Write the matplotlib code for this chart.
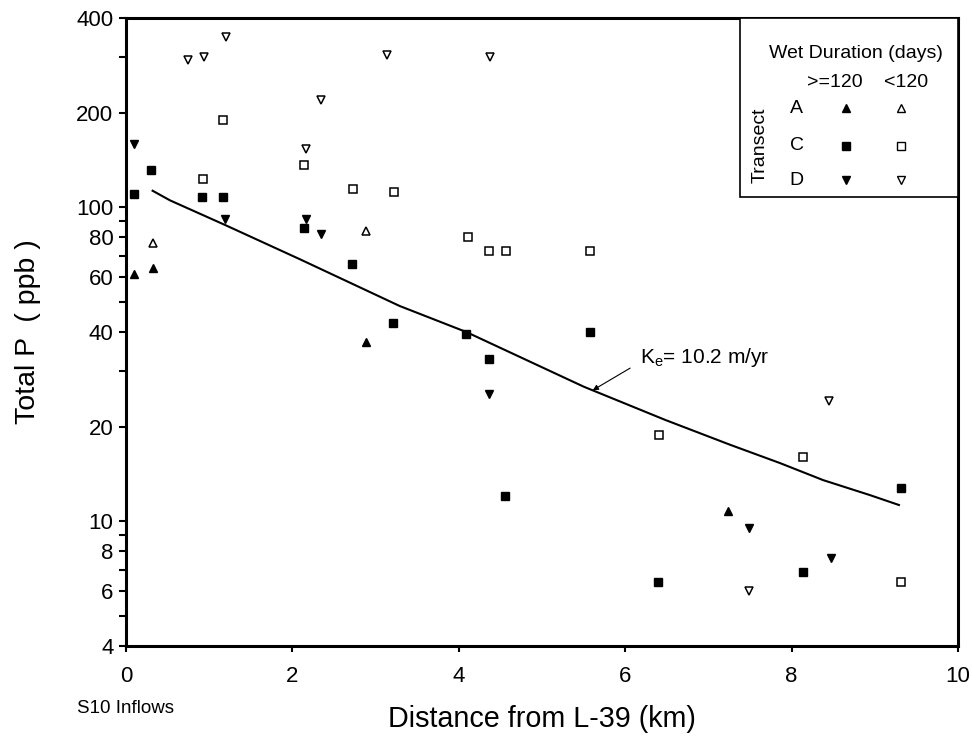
import matplotlib
matplotlib.use("Agg")
import matplotlib.pyplot as plt
from matplotlib.patches import Rectangle
from matplotlib.ticker import FixedLocator, FixedFormatter, LogLocator, NullFormatter
from matplotlib import transforms

plt.rcParams['font.family'] = ['Liberation Sans', 'DejaVu Sans']
plt.rcParams['mathtext.fontset'] = 'custom'
plt.rcParams['mathtext.rm'] = 'Liberation Sans'

# data: distance (km) and total P (ppb)
a_long_x = [0.10, 0.33, 2.88, 7.23]
a_long_y = [61, 64, 37.3, 10.8]
a_short_x = [0.32, 2.89]
a_short_y = [76.6, 84]

c_long_x = [0.10, 0.30, 0.91, 1.17, 2.14, 2.72, 3.21, 4.09, 4.36, 4.56, 5.58, 6.39, 8.14, 9.31]
c_long_y = [110, 131, 107.5, 107.7, 86, 66, 42.6, 39.3, 32.8, 12, 40, 6.4, 6.9, 12.7]
c_short_x = [0.92, 1.17, 2.14, 2.73, 3.22, 4.11, 4.36, 4.57, 5.58, 6.41, 8.14, 9.31]
c_short_y = [122.7, 190, 136, 114, 112, 80.5, 72.5, 72.5, 72.2, 18.8, 16, 6.4]

d_long_x = [0.10, 1.19, 2.16, 2.34, 4.36, 7.49, 8.47]
d_long_y = [159, 91.4, 91.4, 82, 25.3, 9.5, 7.6]
d_short_x = [0.74, 0.94, 1.20, 2.16, 2.35, 3.14, 4.37, 7.49, 8.45]
d_short_y = [295, 300, 349, 153, 219, 306, 301, 6.0, 24.1]

# fitted model curve (Ke = 10.2 m/yr)
fit_x = [0.32, 0.53, 1.19, 2.09, 3.29, 4.09, 5.50, 6.48, 7.26, 7.86, 8.38, 8.94, 9.29]
fit_y = [112.7, 105, 87.7, 68.2, 48.4, 40, 26.8, 21, 17.5, 15.3, 13.5, 12.1, 11.25]

y_labels = [4, 6, 8, 10, 20, 40, 60, 80, 100, 200, 400]
x_ticks = [0, 2, 4, 6, 8, 10]

fig = plt.figure(figsize=(9.72, 7.4), dpi=100)
ax = fig.add_axes([0.1296, 0.127, 0.856, 0.8487])

ms = 5.8
ax.plot(fit_x, fit_y, color='black', lw=1.5, zorder=2)
ax.plot(a_long_x, a_long_y, '^', color='black', ms=ms, ls='none', zorder=3)
ax.plot(a_short_x, a_short_y, '^', mfc='white', mec='black', mew=1.1, ms=ms, ls='none', zorder=3)
ax.plot(c_long_x, c_long_y, 's', color='black', ms=ms, ls='none', zorder=3)
ax.plot(c_short_x, c_short_y, 's', mfc='white', mec='black', mew=1.1, ms=ms, ls='none', zorder=3)
ax.plot(d_long_x, d_long_y, 'v', color='black', ms=ms, ls='none', zorder=3)
ax.plot(d_short_x, d_short_y, 'v', mfc='white', mec='black', mew=1.1, ms=ms, ls='none', zorder=3)

ax.set_yscale('log')
ax.set_xlim(0, 10)
ax.set_ylim(4, 400)
ax.yaxis.set_major_locator(FixedLocator(y_labels))
ax.yaxis.set_major_formatter(FixedFormatter([str(v) for v in y_labels]))
ax.yaxis.set_minor_locator(LogLocator(base=10, subs=range(2, 10)))
ax.yaxis.set_minor_formatter(NullFormatter())
ax.set_xticks(x_ticks)
ax.set_xticklabels([str(v) for v in x_ticks])

ax.tick_params(axis='y', which='both', direction='out', length=5, width=1.5, labelsize=16, pad=4)
ax.tick_params(axis='x', which='both', direction='out', length=4.5, width=1.5, labelsize=16, pad=10)
for side in ['left', 'bottom', 'right', 'top']:
    ax.spines[side].set_linewidth(2.2)

ax.set_ylabel('Total P  ( ppb )', fontsize=20.5)
ax.yaxis.set_label_coords(-0.102, 0.5)
ax.set_xlabel('Distance from L-39 (km)', fontsize=20.7)
ax.xaxis.set_label_coords(0.5, -0.094)

trans = transforms.blended_transform_factory(ax.transData, ax.transAxes)
ax.text(0, -0.0987, 'S10 Inflows', transform=trans, ha='center', va='center', fontsize=13.5)

# rate constant label with arrow
ax.text(6.18, 31.9, r'K$_\mathrm{e}$= 10.2 m/yr', fontsize=15, ha='left', va='baseline')
ax.annotate('', xy=(5.61, 26.1), xytext=(6.06, 30.7),
            arrowprops=dict(arrowstyle='-|>', lw=0.8, color='black', mutation_scale=8,
                            shrinkA=0, shrinkB=0))

# key box in upper right
ax.add_patch(Rectangle((0.738, 0.7155), 0.262, 0.2845, transform=ax.transAxes,
                       facecolor='white', edgecolor='black', lw=1.2, zorder=4))
kw = dict(transform=ax.transAxes, fontsize=14, zorder=5)
ax.text(0.877, 0.944, 'Wet Duration (days)', ha='center', va='center', **kw)
ax.text(0.852, 0.8965, '>=120', ha='center', va='center', **kw)
ax.text(0.938, 0.8965, '<120', ha='center', va='center', **kw)
ax.text(0.762, 0.798, 'Transect', ha='center', va='center', rotation=90, **kw)
rows = ['A', 'C', 'D']
row_y = [0.8562, 0.7967, 0.742]
row_marker = ['^', 's', 'v']
for lab, yy, mk in zip(rows, row_y, row_marker):
    ax.text(0.806, yy, lab, ha='center', va='center', **kw)
    ax.plot([0.865], [yy], mk, color='black', ms=5.5, transform=ax.transAxes, zorder=5, clip_on=False)
    ax.plot([0.932], [yy], mk, mfc='white', mec='black', mew=1, ms=5.5,
            transform=ax.transAxes, zorder=5, clip_on=False)

fig.savefig('out.png', dpi=100)
